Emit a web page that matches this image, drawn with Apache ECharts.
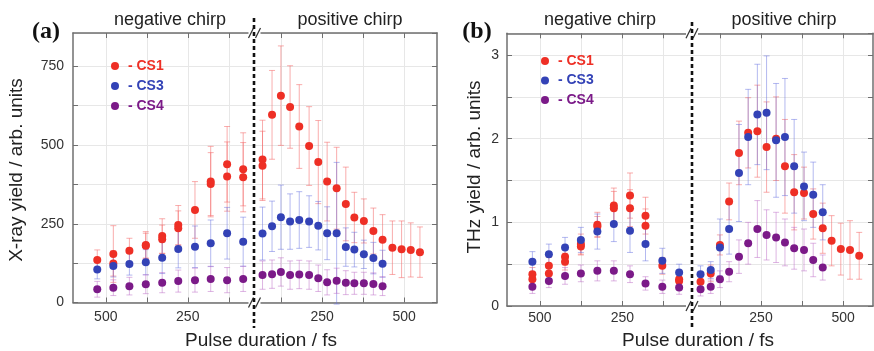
<!DOCTYPE html>
<html>
<head>
<meta charset="utf-8">
<script src="https://cdn.jsdelivr.net/npm/echarts@6/dist/echarts.min.js"></script>
<style>
html,body{margin:0;padding:0;background:#fff;}
#chart{width:874px;height:351px;}
</style>
</head>
<body>
<div id="chart"></div>
<script>
// ---------- data ----------
// pulse durations (fs) of the measurement points
const negPulseA = [526, 477, 428, 378, 328, 279, 228, 180, 130, 81];
const posPulseA = [68, 97, 124, 152, 180, 210, 238, 265, 294, 322, 348, 377, 406, 434, 464, 492, 520, 548];
const negPulseB = [523, 473, 424, 376, 326, 276, 227, 180, 129, 78];
const posPulseB = [66, 97, 125, 153, 183, 211, 239, 267, 296, 323, 351, 381, 409, 438, 465, 493, 521, 549];

// (a) X-ray yield
const xrayCS1Neg     = [135, 154, 164, 183, 211, 246, 294, 384, 439, 423];
const xrayCS1NegErr  = [32, 90, 40, 42, 55, 62, 90, 112, 120, 116];
const xrayCS1Neg2    = [null, 124, null, 180, 201, 236, null, 376, 400, 398];
const xrayCS1Neg2Err = [null, 40, null, 40, 45, 55, null, 100, 110, 110];
const xrayCS1Pos     = [454, 596, 657, 621, 559, 497, 446, 384, 363, 313, 270, 259, 227, 199, 174, 169, 167, 160];
const xrayCS1PosErr  = [125, 141, 158, 131, 133, 125, 132, 125, 130, 117, 80, 70, 73, 80, 85, 90, 86, 80];
const xrayCS1Pos2    = [434];
const xrayCS1Pos2Err = [110];
const xrayCS3Neg     = [105, 116, 122, 128, 142, 170, 177, 188, 220, 193];
const xrayCS3NegErr  = [30, 35, 35, 40, 50, 60, 66, 74, 82, 78];
const xrayCS3Pos     = [219, 242, 271, 257, 262, 257, 244, 220, 220, 176, 168, 153, 141, 123];
const xrayCS3PosErr  = [84, 80, 102, 88, 90, 82, 77, 84, 225, 61, 55, 45, 50, 43];
const xrayCS4Neg     = [42, 47, 52, 58, 63, 68, 71, 75, 71, 75];
const xrayCS4NegErr  = [25, 25, 28, 30, 32, 35, 38, 40, 40, 40];
const xrayCS4Pos     = [87, 90, 97, 87, 89, 87, 77, 64, 69, 63, 61, 61, 59, 52];
const xrayCS4PosErr  = [45, 45, 45, 45, 45, 45, 42, 40, 40, 38, 35, 35, 35, 30];

// (b) THz yield
const thzCS1Neg     = [0.38, 0.48, 0.59, 0.74, 0.97, 1.20, 1.32, 1.08, 0.48, 0.32];
const thzCS1NegErr  = [0.08, 0.10, 0.10, 0.12, 0.15, 0.21, 0.27, 0.22, 0.10, 0.08];
const thzCS1Neg2    = [0.32, 0.39, 0.53, 0.71, 0.95, 1.17, 1.17, 0.96, null, 0.30];
const thzCS1Neg2Err = [0.08, 0.08, 0.10, 0.10, 0.12, 0.20, 0.22, 0.20, null, 0.08];
const thzCS1Pos     = [0.29, 0.39, 0.73, 1.25, 1.83, 2.07, 2.09, 1.90, 2.00, 1.67, 1.36, 1.35, 1.10, 0.93, 0.78, 0.68, 0.67, 0.60];
const thzCS1PosErr  = [0.08, 0.10, 0.12, 0.22, 0.38, 0.42, 0.55, 0.54, 0.50, 0.56, 0.45, 0.31, 0.30, 0.30, 0.30, 0.31, 0.35, 0.28];
const thzCS3Neg     = [0.53, 0.62, 0.70, 0.79, 0.89, 0.98, 0.90, 0.74, 0.54, 0.40];
const thzCS3NegErr  = [0.12, 0.12, 0.12, 0.15, 0.21, 0.21, 0.26, 0.20, 0.15, 0.10];
const thzCS3Pos     = [0.38, 0.43, 0.70, 0.92, 1.59, 2.02, 2.29, 2.31, 1.98, 2.02, 1.67, 1.43, 1.33, 1.12];
const thzCS3PosErr  = [0.10, 0.10, 0.34, 0.30, 0.58, 0.57, 0.60, 0.68, 0.68, 0.70, 0.56, 0.41, 0.39, 0.33];
const thzCS4Neg     = [0.23, 0.30, 0.36, 0.39, 0.42, 0.42, 0.38, 0.27, 0.23, 0.22];
const thzCS4NegErr  = [0.08, 0.08, 0.10, 0.10, 0.12, 0.12, 0.10, 0.08, 0.08, 0.08];
const thzCS4Pos     = [0.20, 0.23, 0.32, 0.41, 0.59, 0.75, 0.92, 0.85, 0.82, 0.76, 0.69, 0.67, 0.55, 0.46];
const thzCS4PosErr  = [0.08, 0.08, 0.10, 0.12, 0.20, 0.25, 0.34, 0.30, 0.30, 0.28, 0.25, 0.25, 0.20, 0.15];

// ticks / labels
const negTicks = [500, 375, 250, 125];
const negLabels = [500, 250];
const posTicks = [125, 250, 375, 500];
const posLabels = [250, 500];
const seriesNames = ['CS1', 'CS3', 'CS4'];

// ---------- styling ----------
const FONT = "'Liberation Sans', Arial, sans-serif";
const COL = {CS1: '#ee2f25', CS3: '#3342b6', CS4: '#7b1a88'};
const ERRCOL = {CS1: 'rgba(244,105,105,0.55)', CS3: 'rgba(105,115,225,0.5)', CS4: 'rgba(190,110,200,0.5)'};
const AX = '#6f6f6f';
const GRIDC = '#e7e7e7';

function pts(px, vals) {
  const out = [];
  vals.forEach((v, i) => { if (v != null) out.push([px[i], v]); });
  return out;
}
function bars(px, vals, errs) {
  const out = [];
  vals.forEach((v, i) => { if (v != null && errs[i] != null) out.push([px[i], v - errs[i], v + errs[i]]); });
  return out;
}

function renderErr(color) {
  return function (params, api) {
    const x = api.value(0);
    const lo = api.coord([x, api.value(1)]);
    const hi = api.coord([x, api.value(2)]);
    const w = 3;
    const st = {stroke: color, lineWidth: 1};
    return {
      type: 'group',
      children: [
        {type: 'line', shape: {x1: lo[0], y1: lo[1], x2: hi[0], y2: hi[1]}, style: st},
        {type: 'line', shape: {x1: lo[0] - w, y1: lo[1], x2: lo[0] + w, y2: lo[1]}, style: st},
        {type: 'line', shape: {x1: hi[0] - w, y1: hi[1], x2: hi[0] + w, y2: hi[1]}, style: st}
      ]
    };
  };
}

// vertical grid lines at the tick values, through the axis scale
const gridSeries = [0, 1, 2, 3].map(g => ({
  type: 'scatter', name: 'grid' + g, xAxisIndex: g * 2, yAxisIndex: g, data: [], z: 0, silent: true,
  markLine: {
    silent: true, symbol: 'none', label: {show: false}, animation: false, z: 0,
    lineStyle: {color: GRIDC, type: 'solid', width: 1},
    data: (g % 2 === 0 ? negTicks : posTicks).map(t => ({xAxis: t}))
  }
}));

const errSeries = [];
const dotSeries = [];
function add(gridIdx, name, px, vals, errs) {
  errSeries.push({
    type: 'custom', name: 'err-' + name, xAxisIndex: gridIdx * 2, yAxisIndex: gridIdx,
    renderItem: renderErr(ERRCOL[name]), data: bars(px, vals, errs), z: 2, silent: true
  });
  dotSeries.push({
    type: 'scatter', name: name, xAxisIndex: gridIdx * 2, yAxisIndex: gridIdx,
    symbol: 'circle', symbolSize: 8, itemStyle: {color: COL[name], opacity: 1},
    data: pts(px, vals), z: 5 + seriesNames.indexOf(name)
  });
}
// panel (a)
add(0, 'CS1', negPulseA, xrayCS1Neg, xrayCS1NegErr);
add(0, 'CS1', negPulseA, xrayCS1Neg2, xrayCS1Neg2Err);
add(1, 'CS1', posPulseA, xrayCS1Pos, xrayCS1PosErr);
add(1, 'CS1', posPulseA, xrayCS1Pos2, xrayCS1Pos2Err);
add(0, 'CS3', negPulseA, xrayCS3Neg, xrayCS3NegErr);
add(1, 'CS3', posPulseA, xrayCS3Pos, xrayCS3PosErr);
add(0, 'CS4', negPulseA, xrayCS4Neg, xrayCS4NegErr);
add(1, 'CS4', posPulseA, xrayCS4Pos, xrayCS4PosErr);
// panel (b)
add(2, 'CS1', negPulseB, thzCS1Neg, thzCS1NegErr);
add(2, 'CS1', negPulseB, thzCS1Neg2, thzCS1Neg2Err);
add(3, 'CS1', posPulseB, thzCS1Pos, thzCS1PosErr);
add(2, 'CS3', negPulseB, thzCS3Neg, thzCS3NegErr);
add(3, 'CS3', posPulseB, thzCS3Pos, thzCS3PosErr);
add(2, 'CS4', negPulseB, thzCS4Neg, thzCS4NegErr);
add(3, 'CS4', posPulseB, thzCS4Pos, thzCS4PosErr);

// ---------- axes ----------
function xAx(grid, pos, min, max, inverse, ticks, labels, margin) {
  const bottom = pos === 'bottom';
  return {
    type: 'value', gridIndex: grid, position: pos, min: min, max: max, inverse: inverse,
    axisLine: {show: true, onZero: false, lineStyle: {color: AX, width: 1.5}},
    axisTick: {show: true, inside: true, length: 5, lineStyle: {color: AX, width: 1}, customValues: ticks},
    axisLabel: {show: bottom, customValues: labels, fontSize: 14, color: '#333', fontFamily: FONT, margin: margin},
    splitLine: {show: false}
  };
}
function yAx(grid, pos, max, interval, fmt, margin) {
  const left = pos === 'left';
  return {
    type: 'value', gridIndex: grid, position: pos, min: 0, max: max, interval: interval,
    axisLine: {show: true, lineStyle: {color: AX, width: 1.5}},
    axisTick: {show: true, inside: true, length: 5, lineStyle: {color: AX, width: 1}},
    axisLabel: {show: left, formatter: fmt, fontSize: 14, color: '#333', fontFamily: FONT, margin: margin, showMaxLabel: false},
    splitLine: {show: true, lineStyle: {color: GRIDC, width: 1}}
  };
}
const fmtA = v => (v % 250 === 0 ? String(v) : '');
const fmtB = v => (Math.abs(v - Math.round(v)) < 1e-6 ? String(Math.round(v)) : '');

const xAxes = [
  xAx(0, 'bottom', 48, 600, true, negTicks, negLabels, 8),
  xAx(0, 'top', 48, 600, true, negTicks, negLabels, 8),
  xAx(1, 'bottom', 42, 600, false, posTicks, posLabels, 8),
  xAx(1, 'top', 42, 600, false, posTicks, posLabels, 8),
  xAx(2, 'bottom', 39, 600, true, negTicks, negLabels, 5),
  xAx(2, 'top', 39, 600, true, negTicks, negLabels, 5),
  xAx(3, 'bottom', 40, 591, false, posTicks, posLabels, 5),
  xAx(3, 'top', 40, 591, false, posTicks, posLabels, 5)
];
const yAxes = [
  yAx(0, 'left', 856, 125, fmtA, 9),
  yAx(1, 'right', 856, 125, fmtA, 9),
  yAx(2, 'left', 3.26, 0.5, fmtB, 8),
  yAx(3, 'right', 3.26, 0.5, fmtB, 8)
];

// ---------- annotations ----------
function txt(x, y, text, size, opts) {
  opts = opts || {};
  return {
    type: 'text', x: x, y: y, rotation: opts.rot || 0, z: 50,
    style: {
      text: text, fill: opts.color || '#222',
      font: (opts.weight || 'normal') + ' ' + size + 'px ' + (opts.family || FONT),
      textAlign: 'center', textVerticalAlign: 'middle', align: 'center', verticalAlign: 'middle'
    }
  };
}
function breakLine(x, y1, y2) {
  return {type: 'line', z: 60, shape: {x1: x, y1: y1, x2: x, y2: y2},
          style: {stroke: '#111', lineWidth: 2.6, lineDash: [4, 3]}};
}
function slashes(x, y) {
  const s = {stroke: '#333', lineWidth: 1.2};
  return [
    {type: 'rect', z: 55, shape: {x: x - 6, y: y - 3, width: 12, height: 6}, style: {fill: '#fff'}},
    {type: 'line', z: 58, shape: {x1: x - 6, y1: y + 5, x2: x - 1, y2: y - 5}, style: s},
    {type: 'line', z: 58, shape: {x1: x + 1, y1: y + 5, x2: x + 6, y2: y - 5}, style: s}
  ];
}

const SERIF = "'Liberation Serif', 'Times New Roman', serif";
const graphics = [
  txt(170, 20, 'negative chirp', 18),
  txt(350, 20, 'positive chirp', 18),
  txt(46, 32, '(a)', 24, {weight: 'bold', family: SERIF, color: '#111'}),
  txt(17, 170, 'X-ray yield / arb. units', 19, {rot: Math.PI / 2}),
  txt(261, 341, 'Pulse duration / fs', 19),
  txt(600, 20, 'negative chirp', 18),
  txt(784, 20, 'positive chirp', 18),
  txt(477, 32, '(b)', 24, {weight: 'bold', family: SERIF, color: '#111'}),
  txt(475, 167, 'THz yield / arb. units', 19, {rot: Math.PI / 2}),
  txt(698, 341, 'Pulse duration / fs', 19)
].concat(slashes(254.5, 302.5), slashes(254.5, 33), slashes(692, 306), slashes(692, 33.3), [
  breakLine(254, 18, 328),
  breakLine(692, 22, 327)
]);

function legendFor(left, top, gap) {
  return {
    left: left, top: top, orient: 'vertical', padding: 0, itemGap: gap, z: 20,
    itemWidth: 8, itemHeight: 8, icon: 'circle', selectedMode: false,
    formatter: ' - {name}',
    textStyle: {fontSize: 14, fontWeight: 'bold', fontFamily: FONT, lineHeight: 14},
    data: seriesNames.map(n => ({name: n, itemStyle: {color: COL[n]}, textStyle: {color: COL[n], fontWeight: 'bold', fontSize: 14}}))
  };
}

const option = {
  backgroundColor: '#fff',
  animation: false,
  grid: [
    {left: 73, top: 33, width: 181, height: 269.5},
    {left: 254, top: 33, width: 183, height: 269.5},
    {left: 507, top: 33.3, width: 185, height: 272.7},
    {left: 692, top: 33.3, width: 181, height: 272.7}
  ],
  legend: [legendFor(111, 59, 6), legendFor(541, 54, 5.5)],
  xAxis: xAxes,
  yAxis: yAxes,
  graphic: graphics,
  series: gridSeries.concat(errSeries, dotSeries)
};

const chart = echarts.init(document.getElementById('chart'), null, {renderer: 'canvas'});
chart.setOption(option);
</script>
</body>
</html>
